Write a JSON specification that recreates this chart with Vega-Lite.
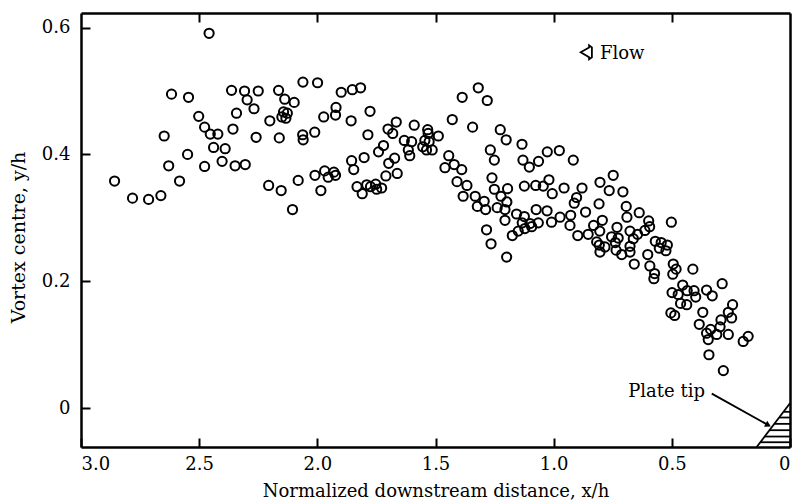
{
"$schema": "https://vega.github.io/schema/vega-lite/v6.json",
"width": 709, "height": 434,
"autosize": {"type": "none"},
"padding": {"left": 81, "top": 13, "right": 3, "bottom": 56},
"background": "white",
"config": {
 "view": {"stroke": null},
 "font": "DejaVu Serif",
 "axis": {"domainColor": "black", "domainWidth": 2.5, "tickColor": "black", "tickWidth": 2, "tickSize": -9, "labelFont": "DejaVu Serif", "labelFontSize": 18, "labelColor": "black", "titleFont": "DejaVu Serif", "titleFontSize": 18, "titleFontWeight": "normal", "titleColor": "black", "grid": false}
},
"resolve": {"axis": {"x": "independent", "y": "independent"}},
"datasets": {
 "pts": [
{"x":2.458,"y":0.591},{"x":2.617,"y":0.495},{"x":2.545,"y":0.490},{"x":2.363,"y":0.501},{"x":2.342,"y":0.465},{"x":2.502,"y":0.460},{"x":2.477,"y":0.443},{"x":2.357,"y":0.440},{"x":2.453,"y":0.432},{"x":2.421,"y":0.432},
{"x":2.648,"y":0.429},{"x":2.439,"y":0.411},{"x":2.390,"y":0.409},{"x":2.549,"y":0.400},{"x":2.403,"y":0.389},{"x":2.629,"y":0.382},{"x":2.477,"y":0.381},{"x":2.348,"y":0.382},{"x":2.858,"y":0.358},{"x":2.583,"y":0.358},
{"x":2.782,"y":0.331},{"x":2.714,"y":0.329},{"x":2.662,"y":0.335},{"x":2.308,"y":0.500},{"x":2.250,"y":0.500},{"x":2.297,"y":0.486},{"x":2.268,"y":0.472},{"x":2.164,"y":0.501},{"x":2.138,"y":0.487},{"x":2.098,"y":0.482},
{"x":2.061,"y":0.514},{"x":1.999,"y":0.513},{"x":1.899,"y":0.498},{"x":1.852,"y":0.502},{"x":1.817,"y":0.505},{"x":1.921,"y":0.474},{"x":1.923,"y":0.462},{"x":1.973,"y":0.459},{"x":1.857,"y":0.453},{"x":1.777,"y":0.468},
{"x":2.143,"y":0.467},{"x":2.127,"y":0.465},{"x":2.150,"y":0.459},{"x":2.133,"y":0.457},{"x":2.201,"y":0.453},{"x":1.666,"y":0.451},{"x":1.701,"y":0.440},{"x":1.681,"y":0.433},{"x":2.259,"y":0.427},{"x":2.161,"y":0.426},
{"x":2.062,"y":0.431},{"x":2.060,"y":0.423},{"x":2.011,"y":0.435},{"x":1.786,"y":0.431},{"x":1.720,"y":0.414},{"x":1.741,"y":0.404},{"x":1.673,"y":0.394},{"x":1.698,"y":0.386},{"x":1.855,"y":0.390},{"x":1.802,"y":0.395},
{"x":1.846,"y":0.376},{"x":2.305,"y":0.384},{"x":1.662,"y":0.370},{"x":1.710,"y":0.366},{"x":2.206,"y":0.351},{"x":2.153,"y":0.343},{"x":2.081,"y":0.359},{"x":2.010,"y":0.367},{"x":1.969,"y":0.374},{"x":1.954,"y":0.364},
{"x":1.930,"y":0.372},{"x":1.923,"y":0.367},{"x":1.985,"y":0.343},{"x":2.105,"y":0.313},{"x":1.832,"y":0.349},{"x":1.810,"y":0.338},{"x":1.791,"y":0.352},{"x":1.775,"y":0.349},{"x":1.753,"y":0.353},{"x":1.749,"y":0.345},
{"x":1.728,"y":0.347},{"x":1.387,"y":0.490},{"x":1.319,"y":0.505},{"x":1.281,"y":0.485},{"x":1.429,"y":0.455},{"x":1.343,"y":0.443},{"x":1.590,"y":0.446},{"x":1.632,"y":0.422},{"x":1.601,"y":0.420},{"x":1.615,"y":0.407},
{"x":1.609,"y":0.398},{"x":1.533,"y":0.439},{"x":1.531,"y":0.433},{"x":1.488,"y":0.429},{"x":1.545,"y":0.422},{"x":1.527,"y":0.420},{"x":1.554,"y":0.412},{"x":1.538,"y":0.407},{"x":1.514,"y":0.407},{"x":1.444,"y":0.398},
{"x":1.460,"y":0.379},{"x":1.421,"y":0.384},{"x":1.389,"y":0.376},{"x":1.409,"y":0.357},{"x":1.367,"y":0.351},{"x":1.383,"y":0.334},{"x":1.332,"y":0.334},{"x":1.294,"y":0.326},{"x":1.323,"y":0.318},{"x":1.288,"y":0.313},
{"x":1.226,"y":0.439},{"x":1.201,"y":0.423},{"x":1.268,"y":0.407},{"x":1.251,"y":0.391},{"x":1.134,"y":0.416},{"x":1.130,"y":0.391},{"x":1.103,"y":0.380},{"x":1.064,"y":0.389},{"x":1.027,"y":0.404},{"x":1.261,"y":0.363},
{"x":1.251,"y":0.345},{"x":1.195,"y":0.346},{"x":1.223,"y":0.334},{"x":1.198,"y":0.325},{"x":1.239,"y":0.316},{"x":1.206,"y":0.313},{"x":1.206,"y":0.296},{"x":1.124,"y":0.350},{"x":1.076,"y":0.351},{"x":1.044,"y":0.350},
{"x":1.020,"y":0.360},{"x":1.006,"y":0.338},{"x":1.157,"y":0.306},{"x":1.124,"y":0.302},{"x":1.074,"y":0.313},{"x":1.028,"y":0.311},{"x":1.009,"y":0.293},{"x":1.133,"y":0.292},{"x":1.100,"y":0.291},{"x":1.065,"y":0.292},
{"x":1.093,"y":0.286},{"x":1.122,"y":0.283},{"x":1.150,"y":0.279},{"x":1.175,"y":0.272},{"x":1.284,"y":0.281},{"x":1.265,"y":0.259},{"x":1.199,"y":0.238},{"x":0.976,"y":0.406},{"x":0.917,"y":0.391},{"x":0.748,"y":0.367},
{"x":0.804,"y":0.356},{"x":0.765,"y":0.343},{"x":0.707,"y":0.341},{"x":0.956,"y":0.347},{"x":0.880,"y":0.347},{"x":0.903,"y":0.332},{"x":0.913,"y":0.323},{"x":0.808,"y":0.322},{"x":0.693,"y":0.318},{"x":0.690,"y":0.301},
{"x":0.638,"y":0.308},{"x":0.598,"y":0.295},{"x":0.502,"y":0.293},{"x":0.973,"y":0.301},{"x":0.928,"y":0.304},{"x":0.865,"y":0.309},{"x":0.931,"y":0.288},{"x":0.794,"y":0.296},{"x":0.831,"y":0.288},{"x":0.805,"y":0.279},
{"x":0.732,"y":0.285},{"x":0.677,"y":0.279},{"x":0.594,"y":0.286},{"x":0.614,"y":0.280},{"x":0.898,"y":0.272},{"x":0.854,"y":0.274},{"x":0.755,"y":0.270},{"x":0.727,"y":0.268},{"x":0.663,"y":0.267},{"x":0.645,"y":0.274},
{"x":0.818,"y":0.262},{"x":0.807,"y":0.257},{"x":0.783,"y":0.254},{"x":0.804,"y":0.246},{"x":0.739,"y":0.261},{"x":0.736,"y":0.249},{"x":0.712,"y":0.242},{"x":0.677,"y":0.255},{"x":0.677,"y":0.246},{"x":0.570,"y":0.263},
{"x":0.545,"y":0.261},{"x":0.519,"y":0.257},{"x":0.553,"y":0.252},{"x":0.525,"y":0.248},{"x":0.602,"y":0.242},{"x":0.659,"y":0.227},{"x":0.593,"y":0.224},{"x":0.573,"y":0.212},{"x":0.576,"y":0.204},{"x":0.494,"y":0.227},
{"x":0.482,"y":0.219},{"x":0.496,"y":0.211},{"x":0.411,"y":0.219},{"x":0.454,"y":0.194},{"x":0.499,"y":0.182},{"x":0.473,"y":0.179},{"x":0.435,"y":0.185},{"x":0.406,"y":0.185},{"x":0.463,"y":0.165},{"x":0.437,"y":0.163},
{"x":0.399,"y":0.175},{"x":0.504,"y":0.150},{"x":0.488,"y":0.146},{"x":0.353,"y":0.186},{"x":0.329,"y":0.177},{"x":0.287,"y":0.196},{"x":0.369,"y":0.151},{"x":0.384,"y":0.132},{"x":0.353,"y":0.118},{"x":0.346,"y":0.108},
{"x":0.336,"y":0.124},{"x":0.310,"y":0.116},{"x":0.296,"y":0.128},{"x":0.292,"y":0.139},{"x":0.261,"y":0.151},{"x":0.243,"y":0.163},{"x":0.247,"y":0.142},{"x":0.261,"y":0.116},{"x":0.198,"y":0.105},{"x":0.177,"y":0.113},
{"x":0.343,"y":0.084},{"x":0.282,"y":0.059}
 ],
 "plate": [
  {"x":0.141,"y":-0.0615,"x2":0,"y2":0.0074},
  {"x":0.0274,"y":-0.006,"x2":0,"y2":-0.006},
  {"x":0.0458,"y":-0.015,"x2":0,"y2":-0.015},
  {"x":0.0663,"y":-0.025,"x2":0,"y2":-0.025},
  {"x":0.0868,"y":-0.035,"x2":0,"y2":-0.035},
  {"x":0.1072,"y":-0.045,"x2":0,"y2":-0.045},
  {"x":0.1257,"y":-0.054,"x2":0,"y2":-0.054},
  {"x":0.331,"y":0.0227,"x2":0.088,"y2":-0.0278}
 ]
},
"layer": [
 {
  "data": {"name": "pts"},
  "mark": {"type": "point", "shape": "circle", "filled": false, "stroke": "black", "strokeWidth": 2, "size": 85, "opacity": 1},
  "encoding": {
   "x": {"field": "x", "type": "quantitative", "scale": {"domain": [0, 3], "reverse": true, "nice": false, "zero": false},
    "axis": {"orient": "bottom", "values": [3, 2.5, 2, 1.5, 1, 0.5, 0], "labelExpr": "datum.value == 0 ? '0' : format(datum.value, '.1f')", "labelPadding": 17, "title": "Normalized downstream distance, x/h", "titleBaseline": "alphabetic", "titleY": 49}},
   "y": {"field": "y", "type": "quantitative", "scale": {"domain": [-0.0615, 0.623], "nice": false, "zero": false},
    "axis": {"orient": "left", "values": [0, 0.2, 0.4, 0.6], "labelExpr": "datum.value == 0 ? '0' : format(datum.value, '.1f')", "labelPadding": 20, "title": "Vortex centre, y/h", "titleFontSize": 19, "titleX": -63, "titleY": 224, "titleBaseline": "middle", "titleAlign": "center", "titleAngle": -90}}
  }
 },
 {
  "data": {"name": "plate"},
  "mark": {"type": "rule", "color": "black", "strokeWidth": 1.8},
  "encoding": {
   "x": {"field": "x", "type": "quantitative", "axis": {"orient": "top", "values": [2.5, 2, 1.5, 1, 0.5], "labels": false, "title": null}},
   "x2": {"field": "x2"},
   "y": {"field": "y", "type": "quantitative", "axis": {"orient": "right", "ticks": false, "labels": false, "title": null}},
   "y2": {"field": "y2"}
  }
 },
 {
  "data": {"values": [{"x": 0.0923, "y": -0.027}]},
  "mark": {"type": "point", "shape": "triangle-right", "filled": true, "color": "black", "size": 45, "angle": 29, "opacity": 1},
  "encoding": {
   "x": {"field": "x", "type": "quantitative", "axis": null},
   "y": {"field": "y", "type": "quantitative", "axis": null}
  }
 },
 {
  "data": {"values": [{"x": 0.856, "y": 0.561}]},
  "mark": {"type": "point", "shape": "M -1 0 L 0.2 -0.7 L 0.2 -1 L 0.6 -0.7 L 0.6 0.7 L 0.2 1 L 0.2 0.7 Z", "filled": false, "stroke": "black", "strokeWidth": 1.8, "size": 196, "opacity": 1},
  "encoding": {
   "x": {"field": "x", "type": "quantitative", "axis": null},
   "y": {"field": "y", "type": "quantitative", "axis": null}
  }
 },
 {
  "data": {"values": [{"x": 0.804, "y": 0.550, "label": "Flow"}]},
  "mark": {"type": "text", "font": "DejaVu Serif", "fontSize": 18, "color": "black", "align": "left", "baseline": "alphabetic"},
  "encoding": {
   "x": {"field": "x", "type": "quantitative", "axis": null},
   "y": {"field": "y", "type": "quantitative", "axis": null},
   "text": {"field": "label"}
  }
 },
 {
  "data": {"values": [{"x": 0.36, "y": 0.0173, "label": "Plate tip"}]},
  "mark": {"type": "text", "font": "DejaVu Serif", "fontSize": 18, "color": "black", "align": "right", "baseline": "alphabetic"},
  "encoding": {
   "x": {"field": "x", "type": "quantitative", "axis": null},
   "y": {"field": "y", "type": "quantitative", "axis": null},
   "text": {"field": "label"}
  }
 }
]
}
